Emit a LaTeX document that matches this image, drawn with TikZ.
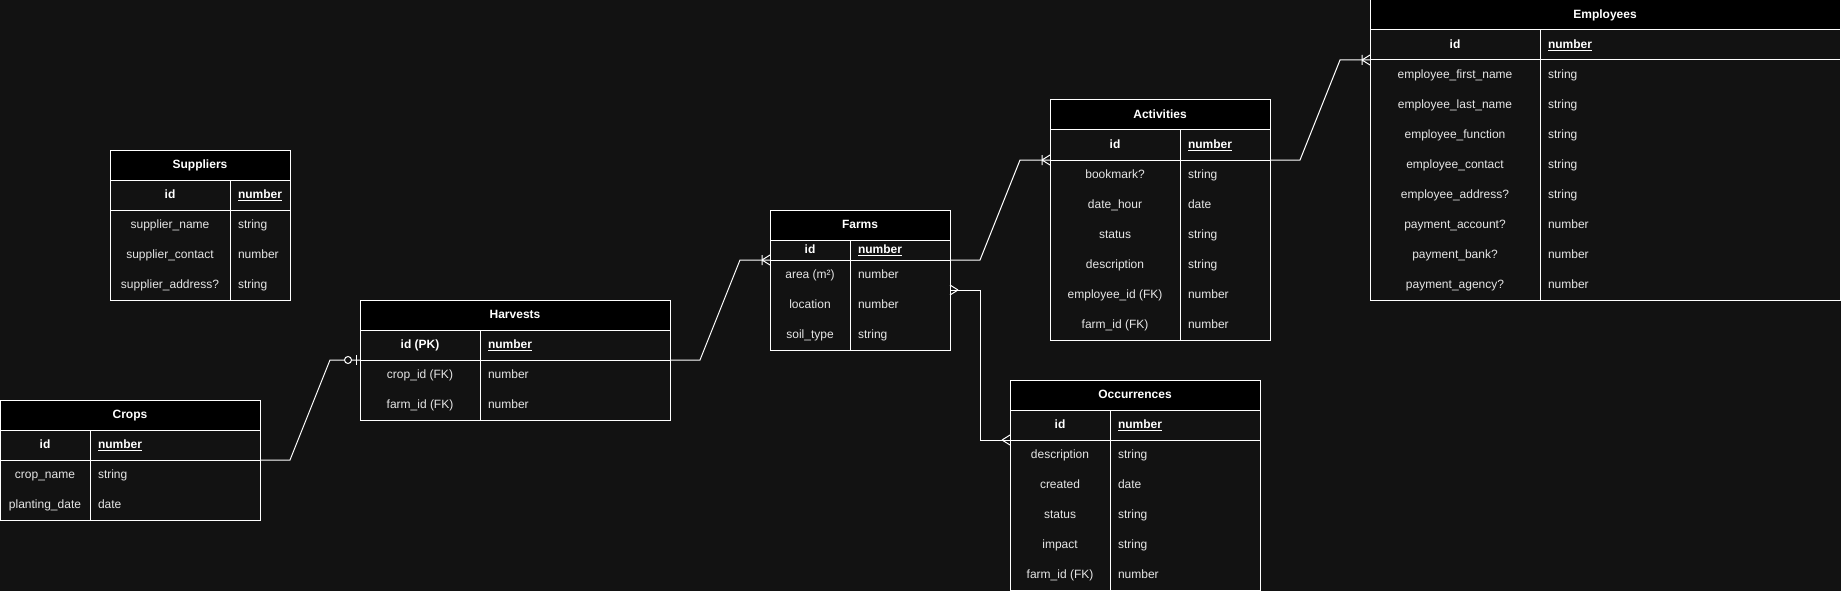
\documentclass[tikz,border=0pt]{standalone}
\usepackage{fontspec}
\setmainfont{Liberation Sans}
\usetikzlibrary{calc}
\definecolor{bgcol}{HTML}{121212}
\definecolor{fieldtxt}{HTML}{E6E6E6}

\tikzset{
  edge/.style={draw=white, line width=1pt},
  tblhead/.style={anchor=north west, draw=white, line width=1pt, fill=black, text=white,
    font=\fontsize{12}{14}\selectfont\bfseries, minimum height=30, inner sep=0, outer sep=0,
    text height=9, text depth=2.5},
  keycell/.style={anchor=north west, minimum height=30, inner sep=0, outer sep=0, text=fieldtxt,
    font=\fontsize{12}{14}\selectfont, text height=9, text depth=2.5},
  typecell/.style={keycell, inner xsep=8, align=left},
  idcell/.style={text=white, font=\fontsize{12}{14}\selectfont\bfseries},
  pics/many/.style={code={\draw[edge] (-8,0) -- (0,-5) (-8,0) -- (0,5);}},
  pics/onemany/.style={code={\draw[edge] (-8,0) -- (0,-5) (-8,0) -- (0,5) (-8,-5) -- (-8,5);}},
  pics/zeroone/.style={code={\draw[edge] (-4,-5) -- (-4,5); \draw[edge, fill=bgcol] (-12,0) circle[radius=3.5pt];}}
}

\begin{document}
\begin{tikzpicture}[x=1pt, y=-1pt]
  \fill[bgcol] (0,0) rectangle (1841,591);
  \useasboundingbox (0,0) rectangle (1841,591);

  % Suppliers
  \begin{scope}[shift={(110,150)}]
    \node[tblhead, minimum width=180] (sup) at (0,0) {Suppliers};
    \node[keycell, idcell, minimum width=120] (sup-k0) at (0,30) {id};
    \node[typecell, idcell, text width=44] (sup-t0) at (120,30) {\underline{number}};
    \foreach \fld/\typ [count=\i] in {supplier\_name/string, supplier\_contact/number, supplier\_address?/string}{
      \node[keycell, minimum width=120] (sup-k\i) at (0,30+30*\i) {\fld};
      \node[typecell, text width=44] (sup-t\i) at (120,30+30*\i) {\typ};
    }
    \draw[edge] (0,30) rectangle (180,150) (0,60) -- (180,60) (120,30) -- (120,150);
  \end{scope}

  % Crops
  \begin{scope}[shift={(0,400)}]
    \node[tblhead, minimum width=260] (crops) at (0,0) {Crops};
    \node[keycell, idcell, minimum width=90] (crops-k0) at (0,30) {id};
    \node[typecell, idcell, text width=154] (crops-t0) at (90,30) {\underline{number}};
    \foreach \fld/\typ [count=\i] in {crop\_name/string, planting\_date/date}{
      \node[keycell, minimum width=90] (crops-k\i) at (0,30+30*\i) {\fld};
      \node[typecell, text width=154] (crops-t\i) at (90,30+30*\i) {\typ};
    }
    \draw[edge] (0,30) rectangle (260,120) (0,60) -- (260,60) (90,30) -- (90,120);
  \end{scope}

  % Harvests
  \begin{scope}[shift={(360,300)}]
    \node[tblhead, minimum width=310] (harv) at (0,0) {Harvests};
    \node[keycell, idcell, minimum width=120] (harv-k0) at (0,30) {id (PK)};
    \node[typecell, idcell, text width=174] (harv-t0) at (120,30) {\underline{number}};
    \foreach \fld/\typ [count=\i] in {crop\_id (FK)/number, farm\_id (FK)/number}{
      \node[keycell, minimum width=120] (harv-k\i) at (0,30+30*\i) {\fld};
      \node[typecell, text width=174] (harv-t\i) at (120,30+30*\i) {\typ};
    }
    \draw[edge] (0,30) rectangle (310,120) (0,60) -- (310,60) (120,30) -- (120,120);
  \end{scope}

  % Farms
  \begin{scope}[shift={(770,210)}]
    \node[tblhead, minimum width=180] (farms) at (0,0) {Farms};
    \node[keycell, idcell, minimum width=80, minimum height=20] (farms-k0) at (0,30) {id};
    \node[typecell, idcell, text width=84, minimum height=20] (farms-t0) at (80,30) {\underline{number}};
    \foreach \fld/\typ [count=\i] in {area (m²)/number, location/number, soil\_type/string}{
      \node[keycell, minimum width=80] (farms-k\i) at (0,20+30*\i) {\fld};
      \node[typecell, text width=84] (farms-t\i) at (80,20+30*\i) {\typ};
    }
    \draw[edge] (0,30) rectangle (180,140) (0,50) -- (180,50) (80,30) -- (80,140);
  \end{scope}

  % Activities
  \begin{scope}[shift={(1050,100)}]
    \node[tblhead, minimum width=220] (act) at (0,0) {Activities};
    \node[keycell, idcell, minimum width=130] (act-k0) at (0,30) {id};
    \node[typecell, idcell, text width=74] (act-t0) at (130,30) {\underline{number}};
    \foreach \fld/\typ [count=\i] in {bookmark?/string, date\_hour/date, status/string,
        description/string, employee\_id (FK)/number, farm\_id (FK)/number}{
      \node[keycell, minimum width=130] (act-k\i) at (0,30+30*\i) {\fld};
      \node[typecell, text width=74] (act-t\i) at (130,30+30*\i) {\typ};
    }
    \draw[edge] (0,30) rectangle (220,240) (0,60) -- (220,60) (130,30) -- (130,240);
  \end{scope}

  % Occurrences
  \begin{scope}[shift={(1010,380)}]
    \node[tblhead, minimum width=250] (occ) at (0,0) {Occurrences};
    \node[keycell, idcell, minimum width=100] (occ-k0) at (0,30) {id};
    \node[typecell, idcell, text width=134] (occ-t0) at (100,30) {\underline{number}};
    \foreach \fld/\typ [count=\i] in {description/string, created/date, status/string,
        impact/string, farm\_id (FK)/number}{
      \node[keycell, minimum width=100] (occ-k\i) at (0,30+30*\i) {\fld};
      \node[typecell, text width=134] (occ-t\i) at (100,30+30*\i) {\typ};
    }
    \draw[edge] (0,30) rectangle (250,210) (0,60) -- (250,60) (100,30) -- (100,210);
  \end{scope}

  % Employees
  \begin{scope}[shift={(1370,0)}]
    \node[tblhead, minimum width=470] (emp) at (0,0) {Employees};
    \node[keycell, idcell, minimum width=170] (emp-k0) at (0,30) {id};
    \node[typecell, idcell, text width=284] (emp-t0) at (170,30) {\underline{number}};
    \foreach \fld/\typ [count=\i] in {employee\_first\_name/string, employee\_last\_name/string,
        employee\_function/string, employee\_contact/string, employee\_address?/string,
        payment\_account?/number, payment\_bank?/number, payment\_agency?/number}{
      \node[keycell, minimum width=170] (emp-k\i) at (0,30+30*\i) {\fld};
      \node[typecell, text width=284] (emp-t\i) at (170,30+30*\i) {\typ};
    }
    \draw[edge] (0,30) rectangle (470,300) (0,60) -- (470,60) (170,30) -- (170,300);
  \end{scope}

  % relations
  \draw[edge] (crops-t0.south east) -- ++(30,0) -- ([xshift=-30]harv-k0.south west) -- (harv-k0.south west);
  \draw[edge] (harv-t0.south east) -- ++(30,0) -- ([xshift=-30]farms-k0.south west) -- (farms-k0.south west);
  \draw[edge] (farms-t0.south east) -- ++(30,0) -- ([xshift=-30]act-k0.south west) -- (act-k0.south west);
  \draw[edge] (act-t0.south east) -- ++(30,0) -- ([xshift=-30]emp-k0.south west) -- (emp-k0.south west);
  \draw[edge] (farms-t1.south east) -- ++(30,0) |- (occ-k0.south west);

  \pic at (harv-k0.south west) {zeroone};
  \pic at (farms-k0.south west) {onemany};
  \pic at (act-k0.south west) {onemany};
  \pic at (emp-k0.south west) {onemany};
  \pic at (occ-k0.south west) {many};
  \pic[rotate=180] at (farms-t1.south east) {many};
\end{tikzpicture}
\end{document}
